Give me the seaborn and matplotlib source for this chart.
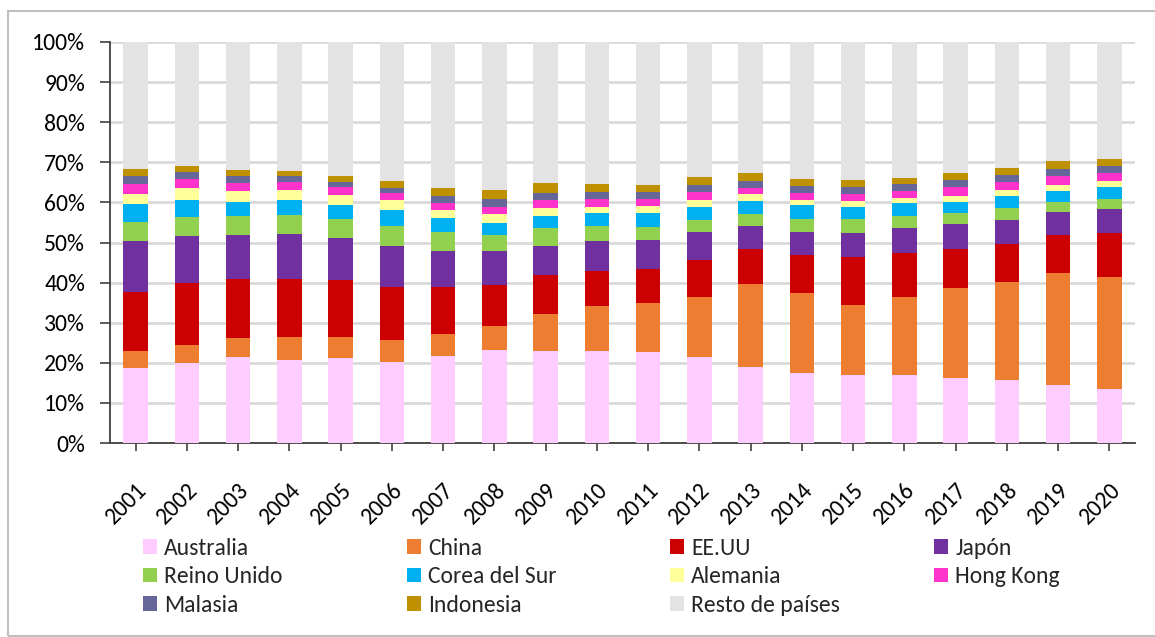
import matplotlib
matplotlib.use("Agg")
import matplotlib.pyplot as plt
import seaborn as sns
import numpy as np
import pandas as pd
from matplotlib.patches import Rectangle, Patch
from matplotlib.ticker import PercentFormatter

years = [str(y) for y in range(2001, 2021)]

australia = [18.8, 19.9, 21.4, 20.7, 21.2, 20.2, 21.8, 23.2, 22.9, 22.9, 22.6, 21.4, 18.9, 17.4, 16.9, 17.0, 16.3, 15.7, 14.4, 13.5]
china     = [4.1, 4.6, 4.9, 5.7, 5.2, 5.5, 5.5, 5.9, 9.3, 11.2, 12.4, 15.0, 20.8, 20.0, 17.6, 19.5, 22.4, 24.4, 28.0, 27.8]
eeuu      = [14.8, 15.4, 14.5, 14.4, 14.2, 13.3, 11.5, 10.2, 9.8, 8.7, 8.5, 9.2, 8.6, 9.4, 11.8, 11.0, 9.8, 9.6, 9.4, 11.1]
japon     = [12.7, 11.6, 11.1, 11.3, 10.6, 10.1, 9.2, 8.5, 7.2, 7.6, 7.2, 6.9, 5.8, 5.9, 6.1, 6.0, 6.1, 6.0, 5.9, 6.0]
reino     = [4.8, 4.9, 4.8, 4.8, 4.7, 5.1, 4.5, 4.0, 4.3, 3.6, 3.2, 3.1, 2.9, 3.2, 3.5, 3.2, 2.8, 2.8, 2.5, 2.5]
corea     = [4.3, 4.3, 3.5, 3.8, 3.5, 3.8, 3.6, 3.1, 3.2, 3.3, 3.5, 3.3, 3.4, 3.5, 3.0, 3.1, 2.8, 3.0, 2.7, 2.9]
alemania  = [2.6, 3.0, 2.6, 2.4, 2.5, 2.7, 2.1, 2.1, 1.9, 1.5, 1.7, 1.7, 1.6, 1.3, 1.5, 1.4, 1.3, 1.5, 1.5, 1.6]
hongkong  = [2.5, 2.1, 2.0, 1.9, 1.9, 1.6, 1.6, 1.8, 2.0, 2.0, 1.7, 1.9, 1.6, 1.6, 1.6, 1.6, 2.3, 2.1, 2.2, 2.0]
malasia   = [2.1, 1.9, 1.9, 1.7, 1.4, 1.4, 1.9, 2.0, 1.8, 1.9, 1.9, 1.9, 1.8, 1.9, 1.9, 1.7, 1.9, 1.8, 1.7, 1.8]
indonesia = [1.6, 1.5, 1.4, 1.2, 1.5, 1.7, 2.0, 2.4, 2.4, 2.0, 1.7, 1.9, 1.9, 1.7, 1.7, 1.7, 1.7, 1.7, 1.9, 1.7]
resto     = [31.7, 30.8, 31.9, 32.1, 33.3, 34.6, 36.3, 36.8, 35.2, 35.3, 35.6, 33.7, 32.7, 34.1, 34.4, 33.8, 32.6, 31.4, 29.8, 29.1]

series_names = ["Australia", "China", "EE.UU", "Japón", "Reino Unido", "Corea del Sur",
                "Alemania", "Hong Kong", "Malasia", "Indonesia", "Resto de países"]
series_vals = [australia, china, eeuu, japon, reino, corea, alemania, hongkong, malasia, indonesia, resto]
colors = ["#FFCCFF", "#ED7D31", "#CC0000", "#7030A0", "#92D050", "#00B0F0",
          "#FFFF99", "#FF33CC", "#666699", "#BF9000", "#E3E3E3"]

sns.set_theme(style="white")
plt.rcParams['font.family'] = ['Carlito', 'Lato', 'DejaVu Sans']

fig = plt.figure(figsize=(11.55, 6.37), dpi=100)
ax = fig.add_axes([110/1155, 1-443/637, (1135-110)/1155, (443-42)/637])

bottom = np.zeros(len(years))
for name, vals, col in zip(series_names, series_vals, colors):
    df = pd.DataFrame({"year": years, "val": np.array(vals) / 100.0})
    sns.barplot(data=df, x="year", y="val", color=col, bottom=bottom, width=0.48,
                ax=ax, linewidth=0, saturation=1, zorder=3)
    bottom = bottom + np.array(vals) / 100.0

ax.set_xlim(-0.5, len(years) - 0.5)
ax.set_ylim(0, 1)
ax.set_yticks(np.arange(0, 1.01, 0.1))
ax.yaxis.set_major_formatter(PercentFormatter(1.0, decimals=0))
ax.set_xlabel("")
ax.set_ylabel("")
ax.grid(axis="y", color="#D9D9D9", linewidth=2, zorder=0)
ax.grid(axis="x", visible=False)
for s in ["top", "right"]:
    ax.spines[s].set_visible(False)
for s in ["left", "bottom"]:
    ax.spines[s].set_color("#404040")
    ax.spines[s].set_linewidth(1.3)
ax.tick_params(axis="both", which="major", direction="out", width=1.2,
               color="#404040", labelsize=17, labelcolor="black", left=True, bottom=True)
ax.tick_params(axis="y", length=7, pad=11)
ax.tick_params(axis="x", length=6, pad=20)
plt.setp(ax.get_xticklabels(), rotation=45, ha="right", rotation_mode="anchor")

# Legend in 4 columns, filled row-wise
xs = [143, 407, 670, 934]
for c in range(4):
    idx = list(range(c, len(series_names), 4))
    handles = [Patch(facecolor=colors[i], edgecolor="none") for i in idx]
    labels = [series_names[i] for i in idx]
    fig.legend(handles, labels, loc="upper left",
               bbox_to_anchor=(xs[c]/1155, 1-538/637), frameon=False,
               fontsize=17, handlelength=0.6, handleheight=0.6,
               handletextpad=0.3, labelspacing=0.31, borderaxespad=0, borderpad=0)

fig.patches.append(Rectangle((8/1155, 1/637), 1160/1155, 625/637, transform=fig.transFigure,
                             fill=False, edgecolor="#BFBFBF", linewidth=1.5))

fig.savefig("out.png", dpi=100)
